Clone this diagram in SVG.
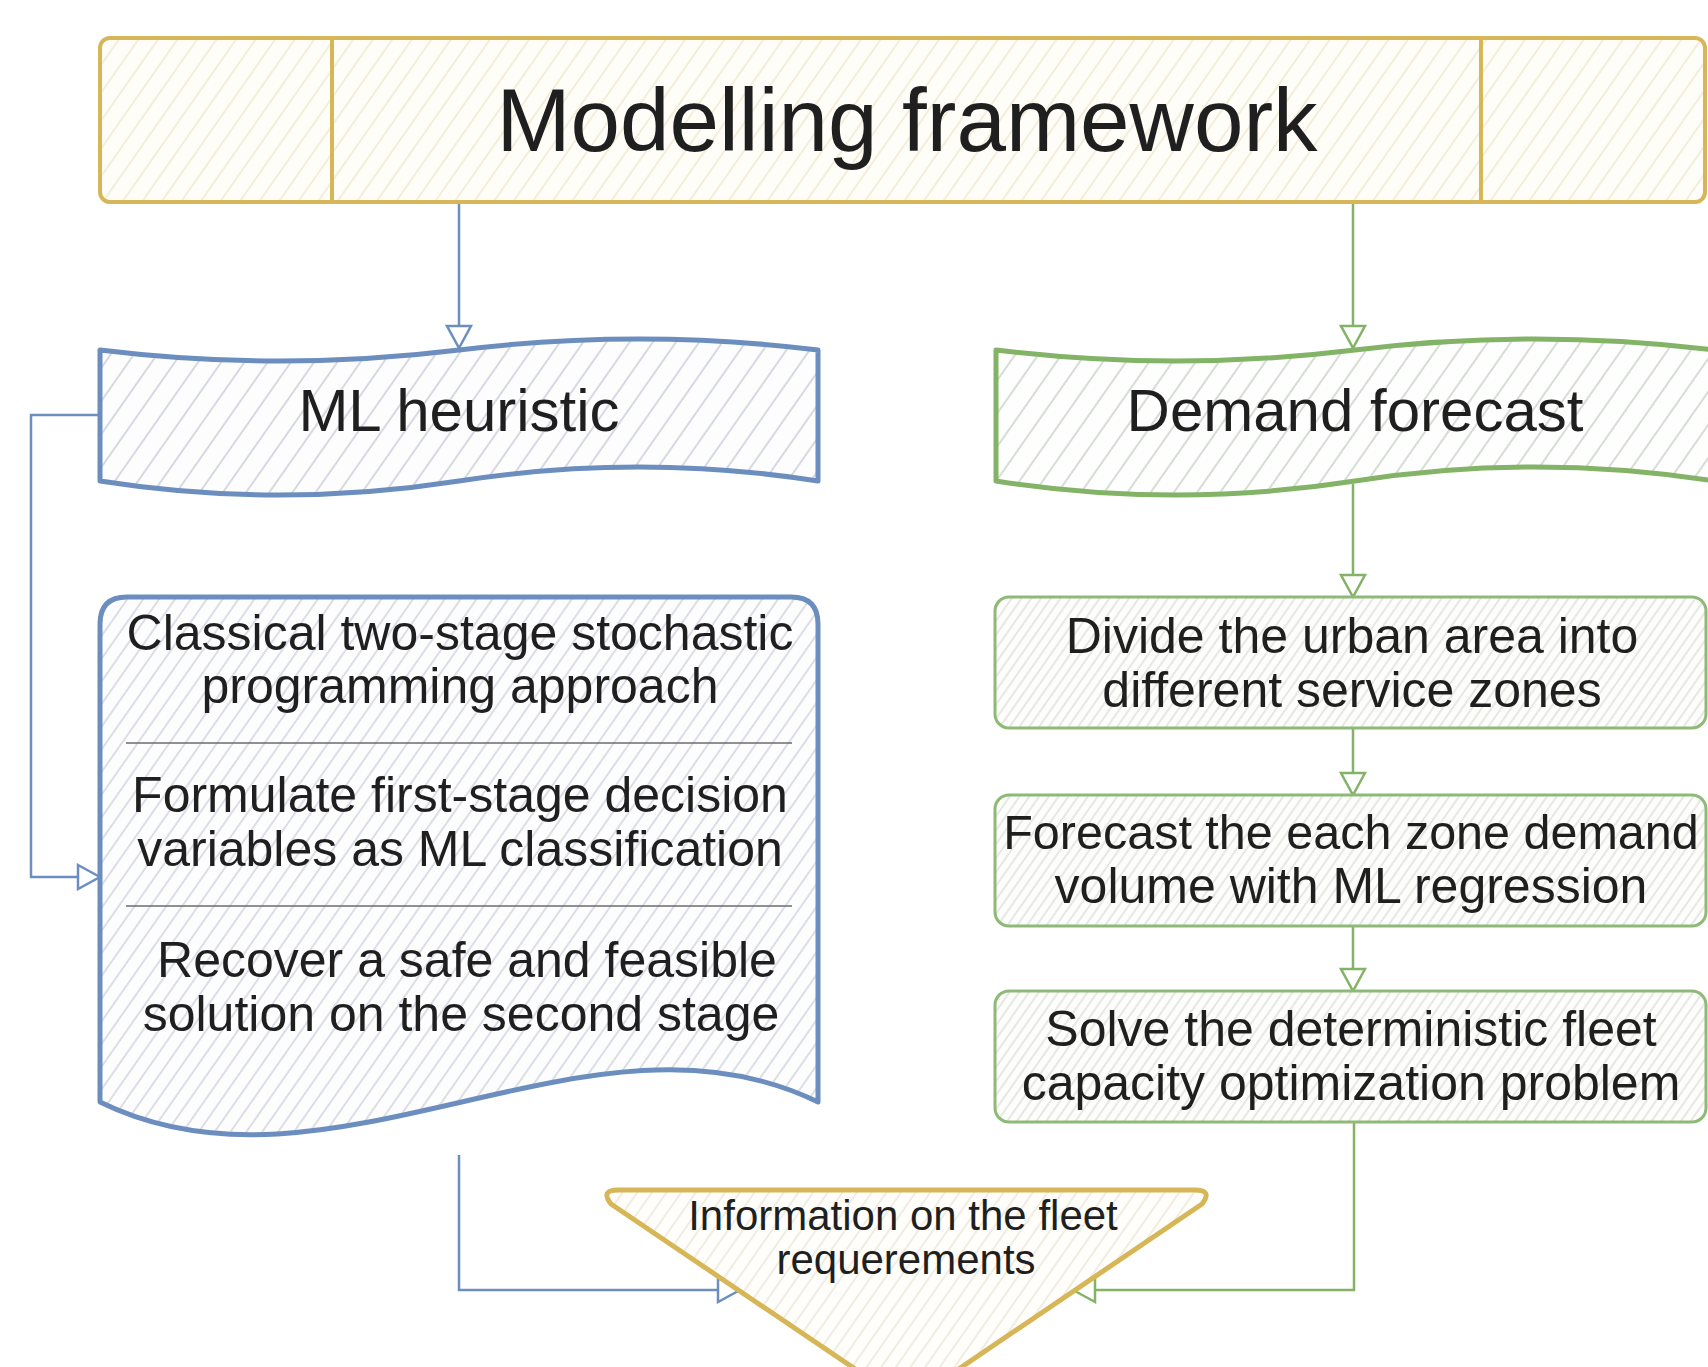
<svg xmlns="http://www.w3.org/2000/svg" width="1708" height="1367" viewBox="0 0 1708 1367">
<style>
  text { font-family: "Liberation Sans", Arial, sans-serif; fill: #1f1f1f; text-anchor: middle; }
  .t88 { font-size: 89px; }
  .t60 { font-size: 60px; }
  .t50 { font-size: 50px; }
  .t42 { font-size: 42px; }
  .conn { fill: none; stroke-width: 2.5; stroke-linejoin: miter; }
  .cb { stroke: #6c8ebf; }
  .cg { stroke: #82b366; }
</style>
<defs>
  <pattern id="hY" width="16" height="16" patternUnits="userSpaceOnUse" patternTransform="rotate(35)">
    <rect width="16" height="16" fill="#fffdf7"/>
    <line x1="8" y1="0" x2="8" y2="16" stroke="#efe8d2" stroke-width="1.5"/>
  </pattern>
  <pattern id="hB" width="19" height="19" patternUnits="userSpaceOnUse" patternTransform="rotate(35)">
    <rect width="19" height="19" fill="#fdfdfe"/>
    <line x1="9" y1="0" x2="9" y2="19" stroke="#c9ced6" stroke-width="1.5"/>
  </pattern>
  <pattern id="hB2" width="13" height="13" patternUnits="userSpaceOnUse" patternTransform="rotate(35)">
    <rect width="13" height="13" fill="#fdfdfe"/>
    <line x1="6" y1="0" x2="6" y2="13" stroke="#cdd2d9" stroke-width="1.4"/>
  </pattern>
  <pattern id="hG" width="19" height="19" patternUnits="userSpaceOnUse" patternTransform="rotate(35)">
    <rect width="19" height="19" fill="#fdfefd"/>
    <line x1="9" y1="0" x2="9" y2="19" stroke="#cbd3c8" stroke-width="1.5"/>
  </pattern>
  <pattern id="hG2" width="8" height="8" patternUnits="userSpaceOnUse" patternTransform="rotate(35)">
    <rect width="8" height="8" fill="#fdfdfc"/>
    <line x1="4" y1="0" x2="4" y2="8" stroke="#dcdcd6" stroke-width="1.3"/>
  </pattern>
  <pattern id="hT" width="12" height="12" patternUnits="userSpaceOnUse" patternTransform="rotate(35)">
    <rect width="12" height="12" fill="#fffefa"/>
    <line x1="6" y1="0" x2="6" y2="12" stroke="#e9e6da" stroke-width="1.4"/>
  </pattern>
  <marker id="aB" viewBox="0 0 26 28" refX="24" refY="14" markerWidth="26" markerHeight="28" markerUnits="userSpaceOnUse" orient="auto">
    <path d="M2,2 L24,14 L2,26 Z" fill="#ffffff" stroke="#6c8ebf" stroke-width="2.5" stroke-linejoin="miter"/>
  </marker>
  <marker id="aG" viewBox="0 0 26 28" refX="24" refY="14" markerWidth="26" markerHeight="28" markerUnits="userSpaceOnUse" orient="auto">
    <path d="M2,2 L24,14 L2,26 Z" fill="#ffffff" stroke="#82b366" stroke-width="2.5" stroke-linejoin="miter"/>
  </marker>
</defs>
<rect width="1708" height="1367" fill="#ffffff"/>

<g id="connectors">
  <path class="conn cb" d="M459,202 V348" marker-end="url(#aB)"/>
  <path class="conn cg" d="M1353,202 V348" marker-end="url(#aG)"/>
  <path class="conn cg" d="M1353,484 V597" marker-end="url(#aG)"/>
  <path class="conn cg" d="M1353,728 V795" marker-end="url(#aG)"/>
  <path class="conn cg" d="M1353,926 V991" marker-end="url(#aG)"/>
  <path class="conn cb" d="M100,415 H31 V877 H100" marker-end="url(#aB)"/>
  <path class="conn cb" d="M459,1155 V1290 H740" marker-end="url(#aB)"/>
  <path class="conn cg" d="M1354,1122 V1290 H1073" marker-end="url(#aG)"/>
</g>

<g id="modelling-framework">
  <rect x="100" y="38" width="1605" height="164" rx="10" fill="url(#hY)" stroke="#d6b656" stroke-width="4"/>
  <line x1="332" y1="38" x2="332" y2="202" stroke="#d6b656" stroke-width="4"/>
  <line x1="1481" y1="38" x2="1481" y2="202" stroke="#d6b656" stroke-width="4"/>
  <text class="t88" x="907" y="151">Modelling framework</text>
</g>

<g id="ml-heuristic">
  <path d="M100,350 Q279,372 459,350 T818,350 L818,481 Q639,453 459,481 T100,481 Z" fill="url(#hB)" stroke="#6c8ebf" stroke-width="5" stroke-linejoin="round"/>
  <text class="t60" x="459" y="431">ML heuristic</text>
</g>

<g id="demand-forecast">
  <path d="M996,350 Q1175,372 1355,350 T1714,350 L1714,481 Q1535,453 1355,481 T996,481 Z" fill="url(#hG)" stroke="#82b366" stroke-width="5" stroke-linejoin="round"/>
  <text class="t60" x="1355" y="431">Demand forecast</text>
</g>

<g id="ml-steps">
  <path d="M100,624 Q100,597 127,597 L791,597 Q818,597 818,624 L818,1102 C590,990 330,1215 100,1102 Z" fill="url(#hB2)" stroke="#6c8ebf" stroke-width="5" stroke-linejoin="round"/>
  <line x1="126" y1="743" x2="792" y2="743" stroke="#6b6b6b" stroke-width="1.6"/>
  <line x1="126" y1="906" x2="792" y2="906" stroke="#6b6b6b" stroke-width="1.6"/>
  <text class="t50" x="460" y="650">Classical two-stage stochastic</text>
  <text class="t50" x="460" y="703">programming approach</text>
  <text class="t50" x="460" y="812">Formulate first-stage decision</text>
  <text class="t50" x="460" y="866">variables as ML classification</text>
  <text class="t50" x="467" y="977">Recover a safe and feasible</text>
  <text class="t50" x="461" y="1031">solution on the second stage</text>
</g>

<g id="divide-zones">
  <rect x="995" y="597" width="711" height="131" rx="14" fill="url(#hG2)" stroke="#8dba76" stroke-width="3"/>
  <text class="t50" x="1352" y="653">Divide the urban area into</text>
  <text class="t50" x="1352" y="707">different service zones</text>
</g>

<g id="forecast-demand">
  <rect x="995" y="795" width="711" height="131" rx="14" fill="url(#hG2)" stroke="#8dba76" stroke-width="3"/>
  <text class="t50" x="1351" y="849" style="font-size:48.5px">Forecast the each zone demand</text>
  <text class="t50" x="1351" y="903">volume with ML regression</text>
</g>

<g id="solve-capacity">
  <rect x="995" y="991" width="711" height="131" rx="14" fill="url(#hG2)" stroke="#8dba76" stroke-width="3"/>
  <text class="t50" x="1351" y="1046">Solve the deterministic fleet</text>
  <text class="t50" x="1351" y="1100">capacity optimization problem</text>
</g>

<g id="fleet-information">
  <path d="M618,1190 L1195,1190 Q1213,1190 1202,1204 L916,1398 Q907,1410 898,1398 L611,1204 Q600,1190 618,1190 Z" fill="url(#hT)" stroke="#d6b656" stroke-width="5" stroke-linejoin="round"/>
  <text class="t42" x="903" y="1230">Information on the fleet</text>
  <text class="t42" x="906" y="1274">requerements</text>
</g>
</svg>
